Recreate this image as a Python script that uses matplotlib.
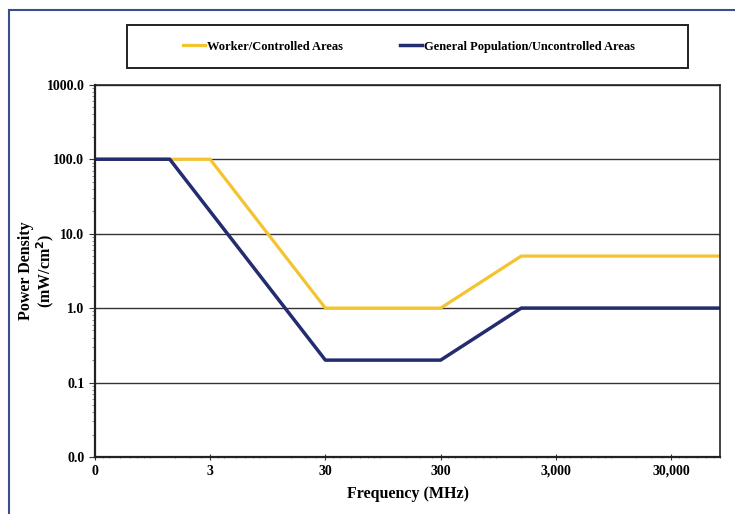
import matplotlib.pyplot as plt
from matplotlib.patches import Rectangle
from matplotlib.ticker import FixedLocator, LogLocator, NullFormatter

# FCC MPE limits
freq_worker = [0.3, 3, 30, 300, 1500, 80000]
pd_worker = [100, 100, 1.0, 1.0, 5.0, 5.0]
freq_general = [0.3, 1.34, 30, 300, 1500, 80000]
pd_general = [100, 100, 0.2, 0.2, 1.0, 1.0]

x_ticks = [0.3, 3, 30, 300, 3000, 30000]
x_labels = ['0', '3', '30', '300', '3,000', '30,000']
y_ticks = [0.01, 0.1, 1, 10, 100, 1000]
y_labels = ['0.0', '0.1', '1.0', '10.0', '100.0', '1000.0']

serif = 'Liberation Serif'
yellow = '#F4C430'
navy = '#232C6E'

fig = plt.figure(figsize=(7.35, 5.14), dpi=100)
ax = fig.add_axes([0.129, 0.111, 0.851, 0.724])

ax.plot(freq_worker, pd_worker, color=yellow, lw=2.3, label='Worker/Controlled Areas')
ax.plot(freq_general, pd_general, color=navy, lw=2.5, label='General Population/Uncontrolled Areas')

ax.set_xscale('log')
ax.set_yscale('log')
ax.set_xlim(0.3, 80000)
ax.set_ylim(0.01, 1000)

ax.xaxis.set_major_locator(FixedLocator(x_ticks))
ax.set_xticklabels(x_labels)
ax.xaxis.set_minor_locator(LogLocator(base=10, subs=(1.5, 2, 2.5, 3.5, 4, 5, 6, 7, 8, 9)))
ax.xaxis.set_minor_formatter(NullFormatter())
ax.yaxis.set_major_locator(FixedLocator(y_ticks))
ax.set_yticklabels(y_labels)
ax.yaxis.set_minor_formatter(NullFormatter())

ax.yaxis.grid(True, which='major', color='#333333', lw=1.0)
ax.set_axisbelow(True)
for s in ax.spines.values():
    s.set_color('#222222')
    s.set_linewidth(1.2)
ax.spines['left'].set_linewidth(1.6)
ax.spines['bottom'].set_linewidth(1.6)

ax.tick_params(axis='both', which='major', length=4, direction='out', color='#333333')
ax.tick_params(axis='both', which='minor', length=2, direction='out', color='#777777')
ax.tick_params(axis='x', which='both', direction='inout')
for lab in ax.get_xticklabels() + ax.get_yticklabels():
    lab.set_fontfamily(serif)
    lab.set_fontweight('bold')
    lab.set_fontsize(10)

ax.set_xlabel('Frequency (MHz)', fontfamily=serif, fontweight='bold', fontsize=11.5, labelpad=6)
ax.set_ylabel('Power Density\n(mW/cm$^\\mathbf{2}$)', fontfamily=serif, fontweight='bold',
              fontsize=11.5, linespacing=1.0)
ax.yaxis.set_label_coords(-0.062, 0.5)

# legend box drawn separately so it can be as wide as in the reference
fig.patches.append(Rectangle((0.173, 0.868), 0.763, 0.083, transform=fig.transFigure,
                             fill=False, edgecolor='#222222', lw=1.4))
fig.legend(loc='center', bbox_to_anchor=(0.556, 0.909), ncol=2, frameon=False,
           handlelength=1.8, handletextpad=0.1, columnspacing=4.6,
           prop={'family': serif, 'weight': 'bold', 'size': 9})

# scanned page border
fig.patches.append(Rectangle((0.012, -0.05), 1.1, 1.03, transform=fig.transFigure,
                             fill=False, edgecolor='#3A4E8C', lw=1.5))

fig.savefig('out.png', dpi=100)
